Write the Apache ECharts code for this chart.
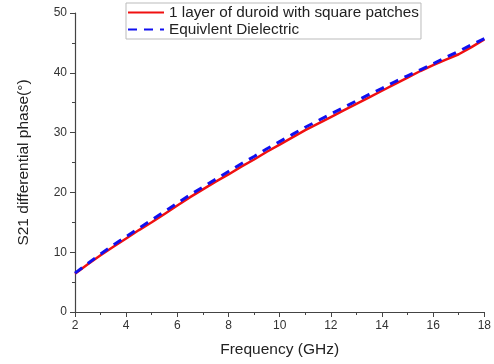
<!DOCTYPE html>
<html><head><meta charset="utf-8">
<script src="https://cdn.jsdelivr.net/npm/echarts@6/dist/echarts.min.js"></script>
<style>html,body{margin:0;padding:0;background:#fff}#c{width:494px;height:364px}</style>
</head><body><div id="c"></div>
<script>
const freq = [2,2.5,3,3.5,4,4.5,5,5.5,6,6.5,7,7.5,8,8.5,9,9.5,10,10.5,11,11.5,12,12.5,13,13.5,14,14.5,15,15.5,16,16.5,17,17.5,18];
const duroid = [6.4,8.0,9.5,10.9,12.3,13.7,15.0,16.4,17.8,19.2,20.5,21.8,23.0,24.3,25.5,26.8,28.0,29.2,30.4,31.5,32.6,33.7,34.8,35.9,37.0,38.1,39.2,40.3,41.3,42.2,43.1,44.3,45.6];
const equiv = [6.5,8.1,9.7,11.2,12.6,14.0,15.4,16.8,18.2,19.6,20.9,22.2,23.5,24.8,26.0,27.3,28.5,29.7,30.9,32.0,33.1,34.2,35.3,36.4,37.4,38.5,39.5,40.5,41.5,42.6,43.6,44.7,45.7];
const names = ['1 layer of duroid with square patches','Equivlent Dielectric'];
const chart = echarts.init(document.getElementById('c'));
const axisCommon = {
  axisLine:{show:true,lineStyle:{color:'#444',width:1.2}},
  axisTick:{show:true,inside:false,length:5,lineStyle:{color:'#444'}},
  minorTick:{show:true,splitNumber:2,length:3,lineStyle:{color:'#444'}},
  splitLine:{show:false},
  axisLabel:{color:'#333',fontSize:12,fontFamily:'Liberation Sans, Arial'},
  nameTextStyle:{color:'#222',fontSize:15.5,fontFamily:'Liberation Sans, Arial'}
};
chart.setOption({
  animation:false,
  grid:{left:75,right:9,top:13,bottom:52,containLabel:false},
  legend:{
    show:true,orient:'vertical',left:126,top:3,
    padding:[2,2,2,1],itemGap:2,itemWidth:36,itemHeight:15,
    borderColor:'#bbb',borderWidth:1,backgroundColor:'#fff',
    itemStyle:{opacity:0},
    textStyle:{fontSize:15.3,color:'#222',fontFamily:'Liberation Sans, Arial'},
    data:names
  },
  xAxis:Object.assign({},axisCommon,{
    type:'value',min:2,max:18,interval:2,
    name:'Frequency (GHz)',nameLocation:'middle',nameGap:30
  }),
  yAxis:Object.assign({},axisCommon,{
    type:'value',min:0,max:50,interval:10,
    name:'S21 differential phase(°)',nameLocation:'middle',nameGap:43
  }),
  series:[
    {name:names[0],type:'line',symbol:'none',smooth:false,
     data:freq.map((f,i)=>[f,duroid[i]]),
     lineStyle:{color:'#f01010',width:2.5},itemStyle:{color:'#f01010'}},
    {name:names[1],type:'line',symbol:'none',smooth:false,
     data:freq.map((f,i)=>[f,equiv[i]]),
     lineStyle:{color:'#1010f0',width:3,type:[9,7]},itemStyle:{color:'#1010f0'}}
  ]
});
</script></body></html>
